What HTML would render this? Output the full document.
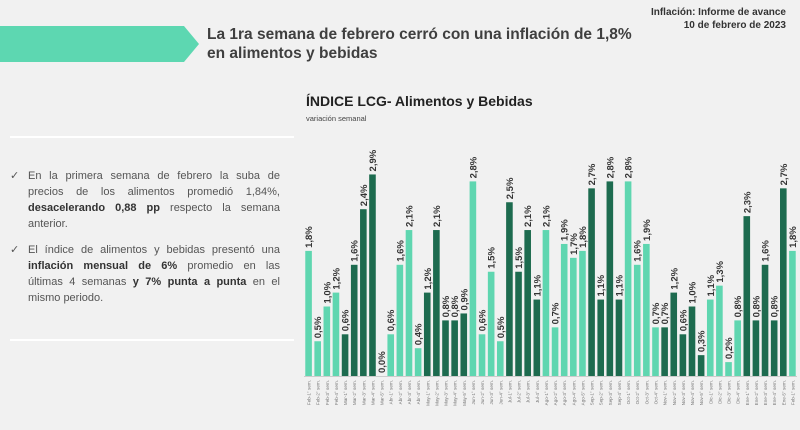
<!DOCTYPE html>
<html><head><meta charset="utf-8"><style>
body{margin:0;width:800px;height:430px;background:#f1f1f1;font-family:"Liberation Sans",sans-serif;overflow:hidden;position:relative;color:#444}
.abs{position:absolute}
.ln{display:block;text-align:justify;text-align-last:justify;white-space:nowrap}
.ln.last{text-align-last:left}
</style></head><body>
<div class="abs" style="left:0;top:26px;width:200px;height:36px;">
<svg width="200" height="36"><polygon points="0,0 184,0 199,18 184,36 0,36" fill="#5dd7b1"/></svg></div>
<div class="abs" style="left:207px;top:25px;font-size:15.5px;font-weight:bold;line-height:19px;color:#3f3f3f">La 1ra semana de febrero cerró con una inflación de 1,8%<br>en alimentos y bebidas</div>
<div class="abs" style="right:14px;top:6px;font-size:10px;font-weight:bold;text-align:right;line-height:13px;color:#333">Inflación: Informe de avance<br>10 de febrero de 2023</div>
<div class="abs" style="left:10px;top:136px;width:284px;height:2px;background:#fff"></div>
<div class="abs" style="left:10px;top:339px;width:284px;height:2px;background:#fff"></div>
<div class="abs" style="left:10px;top:168px;width:270px;font-size:11px;line-height:16px;color:#555">
<div style="position:relative;padding-left:18px"><span style="position:absolute;left:0">✓</span>
<span class="ln">En la primera semana de febrero la suba de</span>
<span class="ln">precios de los alimentos promedió 1,84%,</span>
<span class="ln"><b style="color:#333">desacelerando 0,88 pp</b> respecto la semana</span>
<span class="ln last">anterior.</span></div>
<div style="position:relative;padding-left:18px;margin-top:10px"><span style="position:absolute;left:0">✓</span>
<span class="ln">El índice de alimentos y bebidas presentó una</span>
<span class="ln"><b style="color:#333">inflación mensual de 6%</b> promedio en las</span>
<span class="ln">últimas 4 semanas <b style="color:#333">y 7% punta a punta</b> en el</span>
<span class="ln last">mismo periodo.</span></div>
</div>
<div class="abs" style="left:306px;top:93px;font-size:14px;font-weight:bold;color:#222">ÍNDICE LCG- Alimentos y Bebidas</div>
<div class="abs" style="left:306px;top:114px;font-size:7.5px;color:#444">variación semanal</div>
<svg class="abs" id="chart" style="left:0;top:0" width="800" height="430"></svg>
<script>
const categories=["Feb-1° sem.","Feb-2° sem.","Feb-3° sem.","Feb-4° sem.","Mar-1° sem.","Mar-2° sem.","Mar-3° sem.","Mar-4° sem.","Mar-5° sem.","Abr-1° sem.","Abr-2° sem.","Abr-3° sem.","Abr-4° sem.","May-1° sem.","May-2° sem.","May-3° sem.","May-4° sem.","May-5° sem.","Jun-1° sem.","Jun-2° sem.","Jun-3° sem.","Jun-4° sem.","Jul-1° sem.","Jul-2° sem.","Jul-3° sem.","Jul-4° sem.","Ago-1° sem.","Ago-2° sem.","Ago-3° sem.","Ago-4° sem.","Ago-5° sem.","Sep-1° sem.","Sep-2° sem.","Sep-3° sem.","Sep-4° sem.","Oct-1° sem.","Oct-2° sem.","Oct-3° sem.","Oct-4° sem.","Nov-1° sem.","Nov-2° sem.","Nov-3° sem.","Nov-4° sem.","Nov-5° sem.","Dic-1° sem.","Dic-2° sem.","Dic-3° sem.","Dic-4° sem.","Ene-1° sem.","Ene-2° sem.","Ene-3° sem.","Ene-4° sem.","Ene-5° sem.","Feb-1° sem."];
const values=[1.8,0.5,1.0,1.2,0.6,1.6,2.4,2.9,0.0,0.6,1.6,2.1,0.4,1.2,2.1,0.8,0.8,0.9,2.8,0.6,1.5,0.5,2.5,1.5,2.1,1.1,2.1,0.7,1.9,1.7,1.8,2.7,1.1,2.8,1.1,2.8,1.6,1.9,0.7,0.7,1.2,0.6,1.0,0.3,1.1,1.3,0.2,0.8,2.3,0.8,1.6,0.8,2.7,1.8];
const NS="http://www.w3.org/2000/svg";
const svg=document.getElementById('chart');
const x0=304,x1=797,base=376,scale=69.5;
const step=(x1-x0)/categories.length,bw=6.6;
const xPos=i=>x0+i*step+(step-bw)/2;
const yPos=v=>base-v*scale;
function colorFor(c){const m=c.slice(0,3);return ["Mar","May","Jul","Sep","Nov","Ene"].includes(m)?"#1d6b4f":"#5fd6b0";}
values.forEach((v,i)=>{
  const x=xPos(i),y=yPos(v);
  const r=document.createElementNS(NS,'rect');
  
  
  r.setAttribute('x',x);r.setAttribute('y',y);r.setAttribute('width',bw);r.setAttribute('height',Math.max(v*scale,v===0?1:0));
  r.setAttribute('fill',colorFor(categories[i]));
  svg.appendChild(r);
  const t=document.createElementNS(NS,'text');
  
  
  const lx=x+bw/2+3.5,ly=y-3;
  t.setAttribute('transform','translate('+lx+','+ly+') rotate(-90)');
  t.setAttribute('font-size','9.5');t.setAttribute('font-weight','bold');t.setAttribute('fill','#333');
  t.setAttribute('font-family','Liberation Sans, sans-serif');
  t.textContent=v.toFixed(1).replace('.',',')+'%';
  svg.appendChild(t);
  const c=document.createElementNS(NS,'text');
  
  
  const cx=x+bw/2+2,cy=base+4;
  c.setAttribute('transform','translate('+cx+','+cy+') rotate(-90)');
  c.setAttribute('text-anchor','end');
  c.setAttribute('font-size','4.6');c.setAttribute('fill','#777');
  c.setAttribute('font-family','Liberation Sans, sans-serif');
  c.textContent=categories[i];
  svg.appendChild(c);
});
const ax=document.createElementNS(NS,'line');


ax.setAttribute('x1',x0);ax.setAttribute('x2',x1);ax.setAttribute('y1',base+0.5);ax.setAttribute('y2',base+0.5);
ax.setAttribute('stroke','#ccc');ax.setAttribute('stroke-width','1');
svg.appendChild(ax);
</script>
</body></html>
